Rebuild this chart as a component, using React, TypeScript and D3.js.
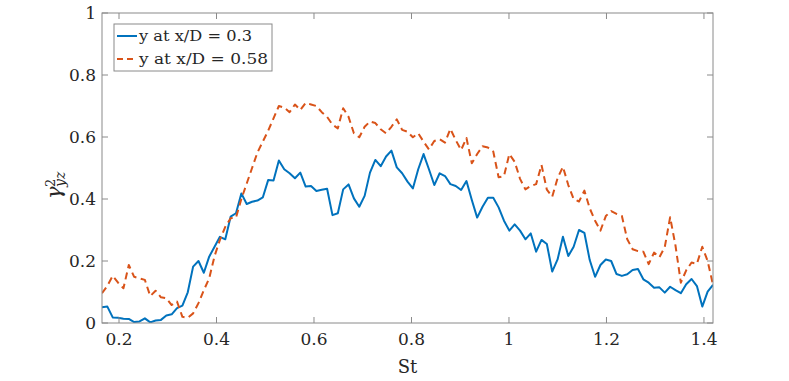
import React from "react";
import * as d3 from "d3";

// frequency bins (St), evenly spaced
const stStart = 0.1651;
const stStep = 0.010995;

// gamma^2_yz, y at x/D = 0.3
const gammaNear = [
  0.051, 0.053, 0.018, 0.017, 0.014, 0.013, 0.003, 0.005, 0.015, 0.002,
  0.008, 0.01, 0.024, 0.028, 0.048, 0.056, 0.099, 0.182, 0.2, 0.162,
  0.214, 0.246, 0.278, 0.27, 0.343, 0.354, 0.418, 0.384, 0.391, 0.395,
  0.405, 0.461, 0.46, 0.524, 0.496, 0.483, 0.467, 0.485, 0.44, 0.442,
  0.426, 0.43, 0.433, 0.348, 0.354, 0.431, 0.447, 0.402, 0.375, 0.41,
  0.485, 0.526, 0.506, 0.537, 0.556, 0.502, 0.483, 0.456, 0.434, 0.496,
  0.545, 0.496, 0.445, 0.483, 0.474, 0.448, 0.442, 0.429, 0.458, 0.397,
  0.34, 0.375, 0.404, 0.404, 0.373, 0.33, 0.298, 0.318, 0.298, 0.27,
  0.289, 0.23, 0.268, 0.255, 0.166, 0.205, 0.278, 0.216, 0.246, 0.3,
  0.291, 0.203, 0.149, 0.187, 0.205, 0.2, 0.158, 0.152, 0.157, 0.171,
  0.174, 0.141, 0.13, 0.114, 0.115, 0.098, 0.117, 0.106, 0.096, 0.125,
  0.142, 0.119, 0.053, 0.101, 0.123,
];

// gamma^2_yz, y at x/D = 0.58
const gammaFar = [
  0.096, 0.12, 0.152, 0.13, 0.112, 0.187, 0.149, 0.144, 0.139, 0.087,
  0.104, 0.083, 0.08, 0.058, 0.069, 0.02, 0.017, 0.031, 0.064, 0.106,
  0.144, 0.216, 0.268, 0.31, 0.338, 0.34, 0.4, 0.45, 0.5, 0.55,
  0.585, 0.62, 0.66, 0.7, 0.695, 0.68, 0.705, 0.687, 0.71, 0.705,
  0.7, 0.68, 0.665, 0.64, 0.628, 0.693, 0.665, 0.612, 0.599, 0.633,
  0.65, 0.645, 0.625, 0.612, 0.633, 0.657, 0.623, 0.617, 0.599, 0.612,
  0.585, 0.56, 0.587, 0.593, 0.582, 0.626, 0.59, 0.558, 0.597, 0.515,
  0.545, 0.57, 0.566, 0.553, 0.47, 0.474, 0.545, 0.52, 0.465, 0.431,
  0.442, 0.448, 0.51, 0.43, 0.407, 0.467, 0.504, 0.445, 0.4, 0.392,
  0.427, 0.37, 0.33, 0.298, 0.345, 0.361, 0.352, 0.345, 0.27, 0.238,
  0.232, 0.23, 0.19, 0.227, 0.212, 0.245, 0.341, 0.25, 0.13, 0.17,
  0.195, 0.191, 0.246, 0.2, 0.123,
];

const xTicks = [0.2, 0.4, 0.6, 0.8, 1, 1.2, 1.4];
const yTicks = [0, 0.2, 0.4, 0.6, 0.8, 1];
const seriesNames = ["y at x/D = 0.3", "y at x/D = 0.58"];
const seriesColors = ["#0072BD", "#D95319"];

const W = 789;
const H = 381;
const left = 102;
const right = 713;
const top = 13;
const bottom = 323;
const tickLen = 6;
const axisColor = "#8a8a8a";
const textColor = "#262626";
const font = "DejaVu Serif";

export default function App() {
  const n = gammaNear.length;
  const x = d3
    .scaleLinear()
    .domain([stStart, stStart + stStep * (n - 1)])
    .range([left, right]);
  const y = d3.scaleLinear().domain([0, 1]).range([bottom, top]);

  const line = d3
    .line<number>()
    .x((_, i) => x(stStart + stStep * i))
    .y((d) => y(d));

  const series = [gammaNear, gammaFar];

  return (
    <svg
      width={W}
      height={H}
      style={{ position: "absolute", left: 0, top: 0, background: "#fff" }}
    >
      <defs>
        <clipPath id="plot">
          <rect x={left} y={top} width={right - left} height={bottom - top} />
        </clipPath>
      </defs>

      <g clipPath="url(#plot)">
        {series.map((s, k) => (
          <path
            key={k}
            d={line(s) || ""}
            fill="none"
            stroke={seriesColors[k]}
            strokeWidth={2}
            strokeDasharray={k === 1 ? "7,4.5" : undefined}
            strokeLinejoin="round"
          />
        ))}
      </g>

      {/* box */}
      <rect
        x={left}
        y={top}
        width={right - left}
        height={bottom - top}
        fill="none"
        stroke={axisColor}
        strokeWidth={1}
      />

      {/* x ticks */}
      {xTicks.map((t) => (
        <g key={"x" + t}>
          <line x1={x(t)} x2={x(t)} y1={bottom} y2={bottom - tickLen} stroke={axisColor} />
          <line x1={x(t)} x2={x(t)} y1={top} y2={top + tickLen} stroke={axisColor} />
          <text
            x={x(t)}
            y={bottom + 22}
            textAnchor="middle"
            fontFamily={font}
            fontSize={17}
            fill={textColor}
          >
            {String(t)}
          </text>
        </g>
      ))}

      {/* y ticks */}
      {yTicks.map((t) => (
        <g key={"y" + t}>
          <line x1={left} x2={left + tickLen} y1={y(t)} y2={y(t)} stroke={axisColor} />
          <line x1={right} x2={right - tickLen} y1={y(t)} y2={y(t)} stroke={axisColor} />
          <text
            x={left - 6}
            y={y(t) + 6}
            textAnchor="end"
            fontFamily={font}
            fontSize={17}
            fill={textColor}
          >
            {String(t)}
          </text>
        </g>
      ))}

      {/* x label */}
      <text
        x={(left + right) / 2}
        y={373}
        textAnchor="middle"
        fontFamily={font}
        fontSize={18}
        fill={textColor}
      >
        St
      </text>

      {/* y label */}
      <g transform="translate(61,199) rotate(-90)" fill={textColor} fontFamily={font}>
        <text x={0} y={0} fontSize={21} fontStyle="italic">
          γ
        </text>
        <text x={12} y={-6} fontSize={13}>
          2
        </text>
        <text x={12} y={4} fontSize={14} fontStyle="italic">
          yz
        </text>
      </g>

      {/* legend */}
      <g>
        <rect x={114} y={24} width={158} height={47} fill="#fff" stroke={axisColor} />
        {seriesNames.map((name, k) => (
          <g key={name}>
            <line
              x1={117}
              x2={137}
              y1={36 + k * 23}
              y2={36 + k * 23}
              stroke={seriesColors[k]}
              strokeWidth={2}
              strokeDasharray={k === 1 ? "6,4" : undefined}
            />
            <text
              x={139}
              y={41 + k * 23}
              fontFamily={font}
              fontSize={15}
              fill={textColor}
              textLength={k === 0 ? 113 : 129}
              lengthAdjust="spacingAndGlyphs"
            >
              {name}
            </text>
          </g>
        ))}
      </g>
    </svg>
  );
}
